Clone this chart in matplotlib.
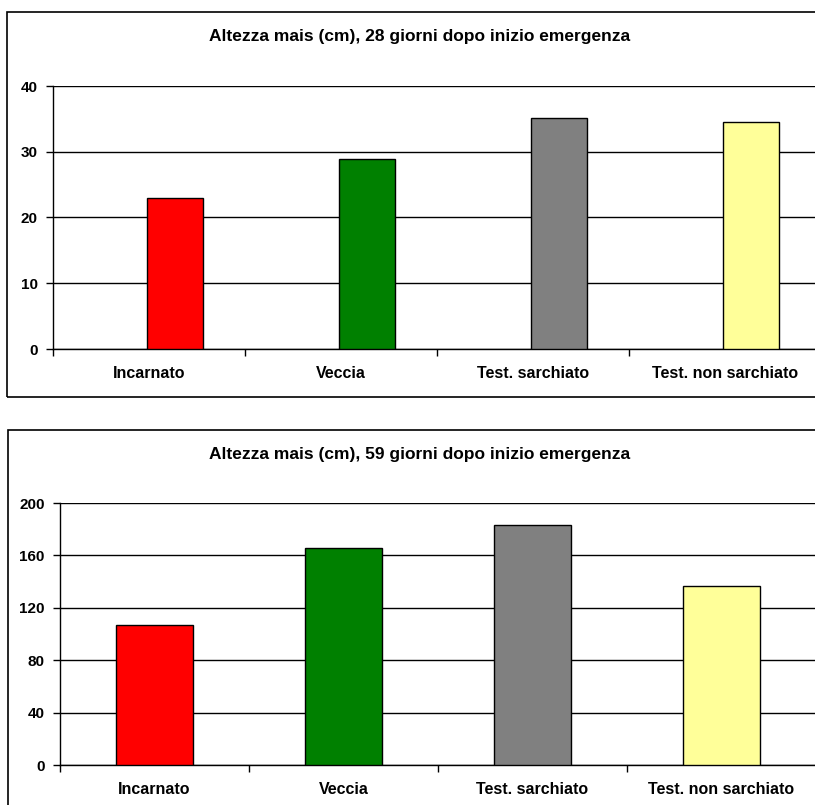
import matplotlib
matplotlib.use("Agg")
import matplotlib.pyplot as plt
from matplotlib.patches import Rectangle
import numpy as np

plt.rcParams['font.family'] = ['Liberation Sans', 'DejaVu Sans']

categories = ["Incarnato", "Veccia", "Test. sarchiato", "Test. non sarchiato"]
colors = ["#FF0000", "#008000", "#808080", "#FFFF99"]
values_28 = [23.0, 28.9, 35.2, 34.6]
values_59 = [106.6, 165.9, 183.4, 136.9]
title_28 = "Altezza mais (cm), 28 giorni dopo inizio emergenza"
title_59 = "Altezza mais (cm), 59 giorni dopo inizio emergenza"
yticks_28 = [0, 10, 20, 30, 40]
yticks_59 = [0, 40, 80, 120, 160, 200]

W, H = 815, 805
fig = plt.figure(figsize=(W / 100, H / 100), dpi=100)
fig.patch.set_facecolor("white")

def fx(x):
    return x / W

def fy(y):
    return 1 - y / H

# frames
fig.patches.append(Rectangle((fx(7), fy(397)), fx(830 - 7), fy(12) - fy(397),
                             transform=fig.transFigure, fill=False, ec="black", lw=1.2))
fig.patches.append(Rectangle((fx(8), fy(830)), fx(830 - 8), fy(430) - fy(830),
                             transform=fig.transFigure, fill=False, ec="black", lw=1.2))

def style_axes(ax, yticks, labels):
    n = len(labels)
    ax.set_xlim(0, n)
    ax.set_ylim(yticks[0], yticks[-1])
    ax.set_yticks(yticks)
    ax.set_yticklabels([str(t) for t in yticks], fontsize=11, fontweight="bold")
    ax.set_xticks(np.arange(n) + 0.5)
    ax.set_xticklabels(labels, fontsize=11.5, fontweight="bold")
    ax.set_xticks(np.arange(n + 1), minor=True)
    ax.tick_params(axis="x", which="major", length=0, pad=12)
    ax.tick_params(axis="x", which="minor", length=5, width=1, color="black", direction="out")
    ax.tick_params(axis="y", length=5, width=1, color="black", direction="out", pad=6)
    for s in ["top", "right"]:
        ax.spines[s].set_visible(False)
    ax.spines["left"].set_color("black")
    ax.spines["bottom"].set_color("black")
    ax.spines["left"].set_linewidth(1)
    ax.spines["bottom"].set_linewidth(1)
    ax.yaxis.grid(True, color="black", lw=1)
    ax.set_axisbelow(True)

# top chart
ax1 = fig.add_axes([fx(53), fy(349), fx(821 - 53), fy(86) - fy(349)])
x = np.arange(len(categories)) + 0.5
ax1.bar(x - 0.01, values_28, width=0.29, align="edge", color=colors,
        edgecolor="black", linewidth=1, zorder=3)
style_axes(ax1, yticks_28, categories)
fig.text(fx(420), fy(36), title_28, ha="center", va="center", fontsize=12.5, fontweight="bold")

# bottom chart
ax2 = fig.add_axes([fx(60), fy(765), fx(816 - 60), fy(503) - fy(765)])
ax2.bar(x, values_59, width=0.407, align="center", color=colors,
        edgecolor="black", linewidth=1, zorder=3)
style_axes(ax2, yticks_59, categories)
fig.text(fx(420), fy(454), title_59, ha="center", va="center", fontsize=12.5, fontweight="bold")

fig.savefig("out.png", dpi=100)
